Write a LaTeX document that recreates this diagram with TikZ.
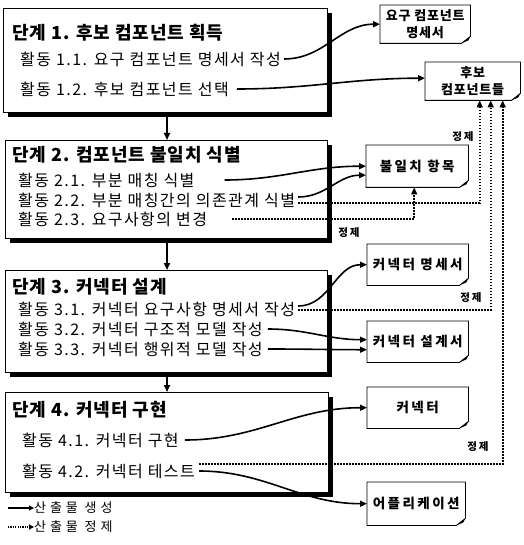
\documentclass[tikz,border=0pt]{standalone}
\usepackage{fontspec}
\setmainfont{Noto Sans CJK KR}
\newfontfamily\actfont{Noto Sans CJK KR}[LetterSpace=9]
\newfontfamily\ttlfont{Noto Sans CJK KR}[LetterSpace=5]
\newfontfamily\docfont{Noto Sans CJK KR}[LetterSpace=18]
\newfontfamily\docnfont{Noto Sans CJK KR}[LetterSpace=6]
\newfontfamily\legfont{Noto Sans CJK KR}[LetterSpace=30]
\usetikzlibrary{arrows.meta,shadows}
\begin{document}
\begin{tikzpicture}[x=1pt,y=-1pt,
 stagebox/.style={draw,line width=0.8pt,fill=white,anchor=north west,inner sep=0pt,
   drop shadow={shadow xshift=5pt,shadow yshift=-5pt,fill=black,opacity=1}},
 ttl/.style={anchor=west,inner sep=0pt,font=\ttlfont\fontsize{18}{20}\selectfont\bfseries},
 act/.style={anchor=west,inner sep=0pt,font=\actfont\fontsize{16}{18}\selectfont},
 doc/.style={anchor=north west,inner sep=0pt,align=center,font=\docfont\fontsize{13.5}{17}\selectfont\bfseries},
 docn/.style={doc,font=\docnfont\fontsize{13}{17}\selectfont\bfseries},
 docline/.style={line width=0.8pt},
 gen/.style={line width=1.6pt,-{Triangle[length=7pt,width=6pt]}},
 refn/.style={line width=1.6pt,dash pattern=on 1.6pt off 1.4pt,-{Triangle[length=7pt,width=6pt]}},
 lbl/.style={font=\docfont\fontsize{10.5}{12}\selectfont\bfseries,inner sep=0pt},
 leg/.style={anchor=west,inner sep=0pt,font=\legfont\fontsize{13}{14}\selectfont},
]
\useasboundingbox (0,0) rectangle (523,545);

% stage boxes
\node[stagebox,minimum width=324pt,minimum height=104pt] (s1) at (3,8) {};
\node[stagebox,minimum width=322pt,minimum height=98pt] (s2) at (5,140) {};
\node[stagebox,minimum width=322pt,minimum height=102pt] (s3) at (5,270) {};
\node[stagebox,minimum width=323pt,minimum height=100pt] (s4) at (5,392) {};

% stage texts
\node[ttl] (h1) at (12,33) {단계 1. 후보 컴포넌트 획득};
\node[act] (t11) at (20,59) {활동 1.1. 요구 컴포넌트 명세서 작성};
\node[act] (t12) at (20,89) {활동 1.2. 후보 컴포넌트 선택};

\node[ttl] (h2) at (12,155) {단계 2. 컴포넌트 불일치 식별};
\node[act] (t21) at (18,180) {활동 2.1. 부분 매칭 식별};
\node[act] (t22) at (18,200) {활동 2.2. 부분 매칭간의 의존관계 식별};
\node[act] (t23) at (18,219) {활동 2.3. 요구사항의 변경};

\node[ttl] (h3) at (12,287) {단계 3. 커넥터 설계};
\node[act] (t31) at (18,309) {활동 3.1. 커넥터 요구사항 명세서 작성};
\node[act] (t32) at (18,329) {활동 3.2. 커넥터 구조적 모델 작성};
\node[act] (t33) at (18,349) {활동 3.3. 커넥터 행위적 모델 작성};

\node[ttl] (h4) at (12,410) {단계 4. 커넥터 구현};
\node[act] (t41) at (22,440) {활동 4.1. 커넥터 구현};
\node[act] (t42) at (22,471) {활동 4.2. 커넥터 테스트};

% stage arrows
\draw[gen] (s1.south -| 167,0) -- (s2.north -| 167,0);
\draw[gen] (s2.south -| 167,0) -- (s3.north -| 167,0);
\draw[gen] (s3.south -| 167,0) -- (s4.north -| 167,0);

% artifacts
\node[docn,minimum width=90pt,minimum height=38pt] (a1) at (380,5) {요구 컴포넌트\\명세서};
\node[docn,minimum width=95pt,minimum height=38pt] (a2) at (425,62) {후보\\컴포넌트들};
\node[doc,minimum width=102pt,minimum height=42pt] (a3) at (366,145) {불일치 항목};
\node[doc,minimum width=101pt,minimum height=41pt] (a4) at (367,244) {커넥터 명세서};
\node[doc,minimum width=101pt,minimum height=41pt] (a5) at (367,321) {커넥터 설계서};
\node[doc,minimum width=101pt,minimum height=41pt] (a6) at (367,387) {커넥터};
\node[doc,minimum width=98pt,minimum height=43pt] (a7) at (367,482) {어플리케이션};
\foreach \n in {a1,a2,a3,a4,a5,a6,a7}{
  \draw[docline] (\n.north west) -- (\n.north east) -- ([yshift=7pt]\n.south east)
     -- ([xshift=-9pt]\n.south east) -- (\n.south west) -- cycle;
  \fill ([yshift=7pt]\n.south east) -- ([xshift=-9pt]\n.south east)
     -- ([xshift=-2pt,yshift=3pt]\n.south east) -- cycle;
}

% start points
\coordinate (p11) at ([xshift=3pt]t11.east);
\coordinate (p12) at ([xshift=8pt]t12.east);
\coordinate (p21) at ([xshift=30pt]t21.east);
\coordinate (p22) at ([xshift=3pt,yshift=3pt]t22.east);
\coordinate (q22) at ([xshift=3pt,yshift=-3pt]t22.east);
\coordinate (q23) at ([xshift=25pt]t23.east);
\coordinate (p31) at ([xshift=3pt,yshift=3pt]t31.east);
\coordinate (q31) at ([xshift=3pt,yshift=-1pt]t31.east);
\coordinate (p32) at ([xshift=5pt]t32.east);
\coordinate (p33) at ([xshift=5pt]t33.east);
\coordinate (p41) at ([xshift=6pt]t41.east);
\coordinate (p42) at ([xshift=4pt]t42.east);
\coordinate (q42) at ([xshift=4pt,yshift=7pt]t42.east);

% generation arrows
\draw[gen] (p11) to[out=0,in=180] (a1.west);
\draw[gen] (p12) to[out=0,in=180] ([yshift=3pt]a2.west);
\draw[gen] (p21) to[out=0,in=180] (a3.west);
\draw[gen] (p22) to[out=0,in=180] ([yshift=-9pt]a3.west);
\draw[gen] (p31) to[out=0,in=180] (a4.west);
\draw[gen] (p32) to[out=0,in=180] ([yshift=2pt]a5.west);
\draw[gen] (p33) to[out=0,in=180] ([yshift=-8pt]a5.west);
\draw[gen] (p41) to[out=0,in=180] (a6.west);
\draw[gen] (p42) to[out=0,in=180] (a7.west);

% refinement arrows
\coordinate (r1) at ([xshift=7pt]a2.south);
\coordinate (r2) at ([xshift=18pt]a2.south);
\coordinate (r3) at ([xshift=30pt]a2.south);
\coordinate (r4) at ([xshift=-3pt]a3.south);
\draw[refn] (q22) -- (q22 -| r1) -- (r1);
\draw[refn] (q23) -- (q23 -| r4) -- (r4);
\draw[refn] (q31) -- (q31 -| r2) -- (r2);
\draw[refn] (q42) -- (q42 -| r3) -- (r3);
\node[lbl] (e1) at (463,137) {정제};
\node[lbl] (e2) at (349,233) {정제};
\node[lbl] (e3) at (471,298) {정제};
\node[lbl] (e4) at (478,447) {정제};

% legend
\node[leg] (l1) at (34,508) {산출물 생성};
\node[leg] (l2) at (34,527) {산출물 정제};
\coordinate (l1s) at (8,508);
\coordinate (l2s) at (8,527);
\draw[gen,line width=1.2pt,-{Triangle[length=5pt,width=5pt]}] (l1s) -- (l1.west);
\draw[refn,line width=1.2pt,dash pattern=on 1.2pt off 1.2pt,-{Triangle[length=5pt,width=5pt]}] (l2s) -- (l2.west);
\end{tikzpicture}
\end{document}
